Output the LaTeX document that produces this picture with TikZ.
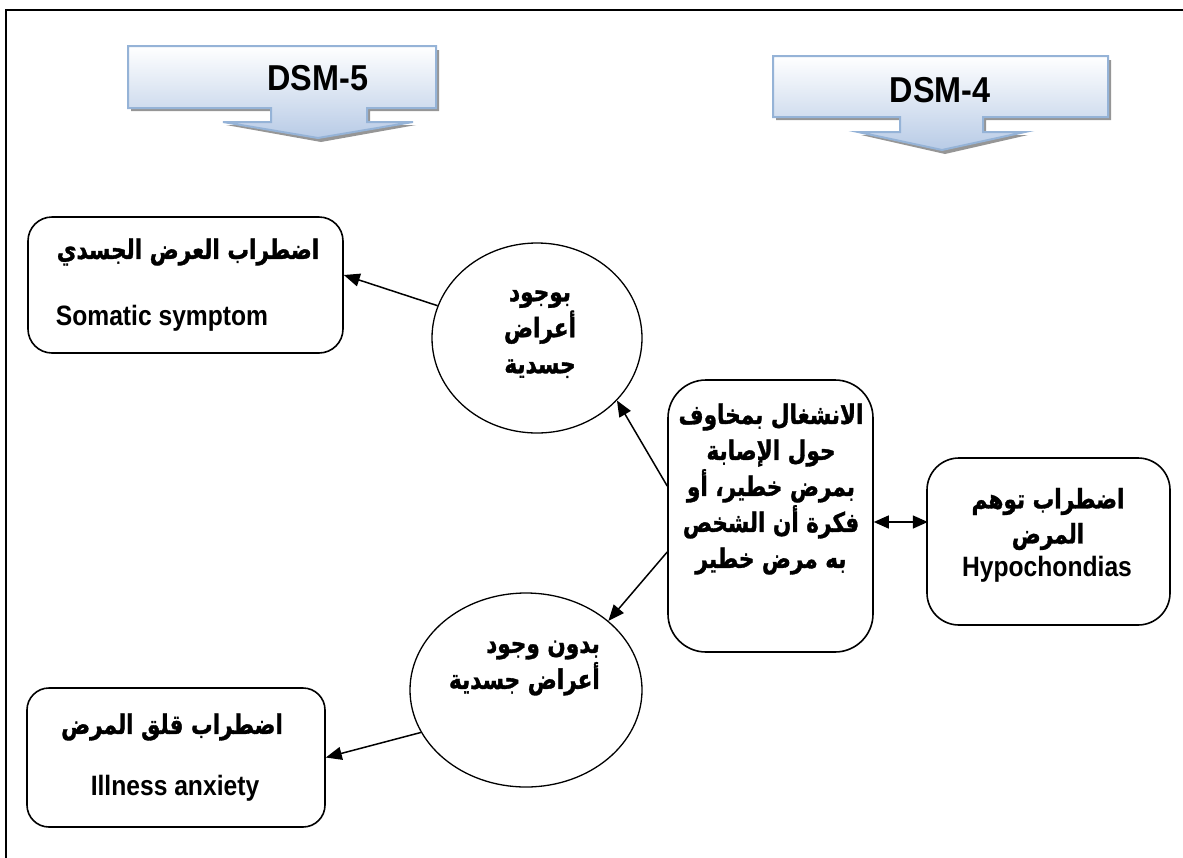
\documentclass[tikz,border=0pt]{standalone}
\usepackage{fontspec}
\setmainfont{Liberation Sans}
\newfontfamily\enfont[FakeStretch=0.88]{Liberation Sans}
\newfontfamily\dsmfont[FakeStretch=0.9]{Liberation Sans}
\newfontfamily\arabicfont[Script=Arabic, FakeStretch=0.8, BoldFeatures={FakeBold=1.2}]{DejaVu Sans}
\TeXXeTstate=1
\usetikzlibrary{shapes.geometric,arrows.meta,calc}
\definecolor{dsmedge}{RGB}{149,179,215}
\definecolor{dsmfill}{RGB}{184,203,230}
\definecolor{dsmshadow}{RGB}{150,150,150}
\begin{document}
\begin{tikzpicture}[x=1pt,y=-1pt,
  frameline/.style={line width=2pt},
  rbox/.style={draw, line width=1.6pt, inner sep=0pt},
  oval/.style={ellipse, draw, line width=1.3pt, inner sep=0pt},
  conn/.style={line width=1.5pt, -{Triangle[length=16pt,width=13pt]}},
  dconn/.style={line width=1.5pt, {Triangle[length=15pt,width=13pt]}-{Triangle[length=15pt,width=13pt]}},
  artxt/.style={font=\arabicfont\bfseries\fontsize{27}{36}\selectfont, inner sep=0pt},
  entxt/.style={font=\enfont\bfseries\fontsize{28}{30}\selectfont, inner sep=0pt},
  dsmtxt/.style={font=\dsmfont\bfseries\fontsize{36}{38}\selectfont, inner sep=0pt},
  callout/.style={top color=white, bottom color=dsmfill, draw=dsmedge, line width=2pt},
  calloutshadow/.style={fill=dsmshadow}
]
\useasboundingbox (0,0) rectangle (1183,857);
% frame
\draw[frameline] (6,870) -- (6,10) -- (1195,10);

% DSM-5 callout
\fill[calloutshadow] (131,50) -- (439,50) -- (439,111) -- (370,111) -- (370,125) -- (416,125) -- (321,142) -- (226,125) -- (274,125) -- (274,111) -- (131,111) -- cycle;
\path[callout] (128,46) -- (436,46) -- (436,108) -- (367,108) -- (367,122) -- (413,122) -- (318,138) -- (223,122) -- (271,122) -- (271,108) -- (128,108) -- cycle;
\node[dsmtxt] (dsm5) at (318,78) {DSM-5};

% DSM-4 callout
\fill[calloutshadow] (776,60) -- (1111,60) -- (1111,120) -- (986,120) -- (986,135) -- (1028,135) -- (945,154) -- (861,135) -- (903,135) -- (903,120) -- (776,120) -- cycle;
\path[callout] (773,56) -- (1108,56) -- (1108,117) -- (983,117) -- (983,132) -- (1025,132) -- (942,150) -- (858,132) -- (900,132) -- (900,117) -- (773,117) -- cycle;
\node[dsmtxt] (dsm4) at (940,90) {DSM-4};

% boxes
\node[rbox, rounded corners=24pt, minimum width=315pt, minimum height=136pt] (soma) at (185.5,285) {};
\node[artxt] (somaar) at (188,252) {\beginR اضطراب العرض الجسدي\endR};
\node[entxt] (somaen) at (162,318) {Somatic symptom};

\node[rbox, rounded corners=22pt, minimum width=298pt, minimum height=139pt] (ill) at (176,757.5) {};
\node[artxt] (illar) at (172,727) {\beginR اضطراب قلق المرض\endR};
\node[entxt] (illen) at (175,788) {Illness anxiety};

\node[rbox, rounded corners=38pt, minimum width=205pt, minimum height=272pt] (cbox) at (770.5,516) {};
\node[artxt, align=center] (ctext) at (771,489) {\beginR الانشغال بمخاوف\endR\\ \beginR حول الإصابة\endR\\ \beginR بمرض خطير، أو\endR\\ \beginR فكرة أن الشخص\endR\\ \beginR به مرض خطير\endR\hspace{58pt}};

\node[rbox, rounded corners=32pt, minimum width=243pt, minimum height=167pt] (hyp) at (1048.5,541.5) {};
\node[artxt, align=center, font=\arabicfont\bfseries\fontsize{27}{35}\selectfont] (hypar) at (1048,519) {\beginR اضطراب توهم\endR\\ \beginR المرض\endR};
\node[entxt] (hypen) at (1047,569) {Hypochondias};

% ellipses
\node[oval, minimum width=210pt, minimum height=190pt] (e1) at (537,338) {};
\node[artxt, align=center] (e1t) at (540,334) {\beginR بوجود\endR\\ \beginR أعراض\endR\\ \beginR جسدية\endR};

\node[oval, minimum width=232pt, minimum height=194pt] (e2) at (526,690) {};
\node[artxt, align=right, anchor=east] (e2t) at (600,668) {\beginR بدون وجود\endR\\ \beginR أعراض جسدية\endR};

% connectors
\draw[conn] (e1.162) -- ($(soma.east)+(0,-10)$);
\draw[conn] ($(cbox.west)+(0,-30)$) -- (e1.-38);
\draw[conn] ($(cbox.west)+(0,36)$) -- (e2.40);
\draw[conn] (e2.202) -- (ill.east);
\draw[dconn] ($(cbox.east)+(0,6)$) -- ($(cbox.east)+(54,6)$);
\end{tikzpicture}
\end{document}
